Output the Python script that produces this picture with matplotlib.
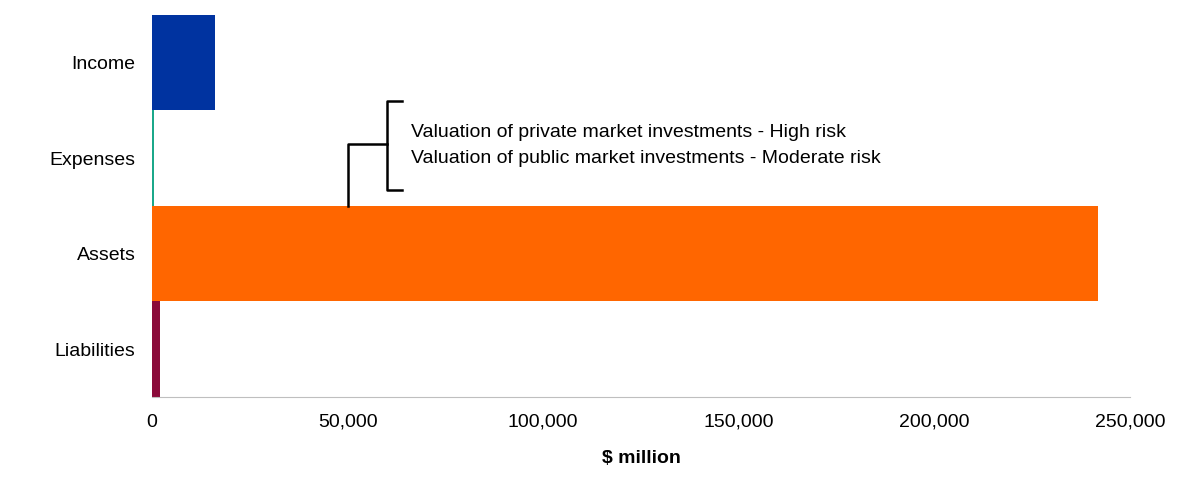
import matplotlib
matplotlib.use("Agg")
import matplotlib.pyplot as plt

categories = ["Liabilities", "Assets", "Expenses", "Income"]
values = [2000, 241800, 500, 16100]
colors = ["#8B0A3A", "#FF6600", "#1BA88A", "#0033A0"]
ticks = [0, 50000, 100000, 150000, 200000, 250000]
notes = ["Valuation of private market investments - High risk",
         "Valuation of public market investments - Moderate risk"]

fig = plt.figure(figsize=(12, 4.95), dpi=100)
ax = fig.add_axes([0.1267, 0.198, 0.815, 0.772])
ax.barh(range(len(categories)), values, height=1.0, color=colors)
ax.set_xlim(0, 250000)
ax.set_ylim(-0.5, 3.5)
ax.set_yticks(range(len(categories)))
ax.set_yticklabels(categories, fontsize=14, fontfamily="Liberation Sans")
ax.set_xticks(ticks)
ax.set_xticklabels([f"{t:,}" for t in ticks], fontsize=14, fontfamily="Liberation Sans")
ax.tick_params(length=0, pad=12)
for s in ["top", "right", "left"]:
    ax.spines[s].set_visible(False)
ax.spines["bottom"].set_color("#BFBFBF")
ax.set_xlabel("$ million", fontsize=14, fontweight="bold", fontfamily="Liberation Sans", labelpad=14)

lw = 1.8
ax.plot([50000, 50000, 60000], [1.5, 2.15, 2.15], color="black", lw=lw)
ax.plot([64000, 60000, 60000, 64000], [2.6, 2.6, 1.67, 1.67], color="black", lw=lw)
ax.text(66200, 2.27, notes[0], fontsize=14, va="center", fontfamily="Liberation Sans")
ax.text(66200, 2.0, notes[1], fontsize=14, va="center", fontfamily="Liberation Sans")

fig.savefig("out.png")
